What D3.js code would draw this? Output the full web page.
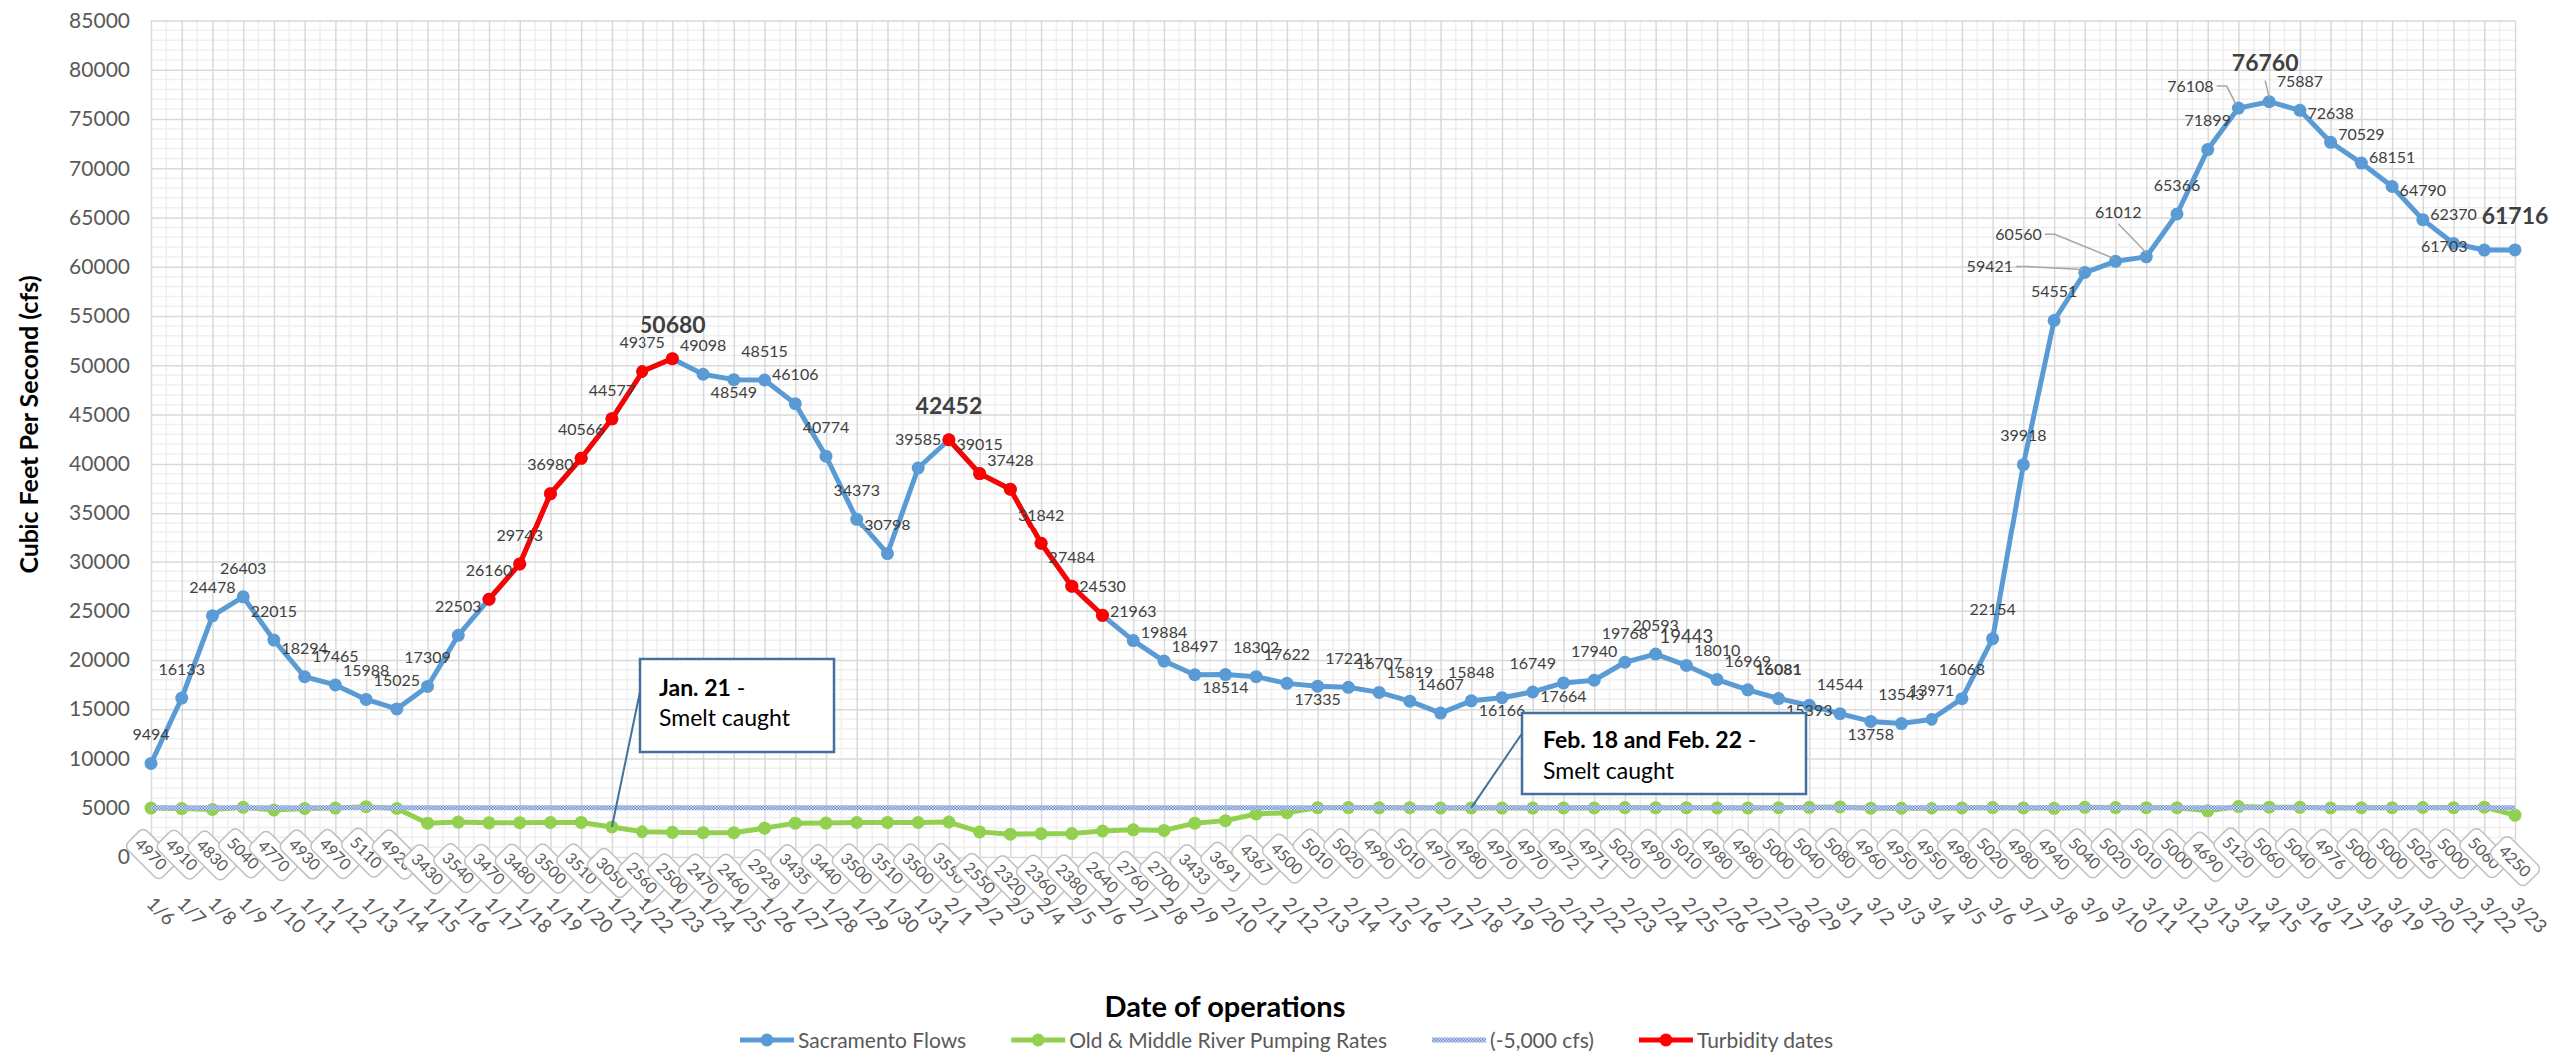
<!DOCTYPE html>
<html>
<head>
<meta charset="utf-8">
<script src="https://cdn.jsdelivr.net/npm/d3@7"></script>
<style>
  html, body { margin: 0; padding: 0; background: #fff; }
  svg { display: block; font-family: Lato, "Open Sans", sans-serif; }
</style>
</head>
<body>
<svg width="2578" height="1057"></svg>
<script>
// --- Data ---
const dates = [
  "1/6","1/7","1/8","1/9","1/10","1/11","1/12","1/13","1/14","1/15","1/16","1/17","1/18",
  "1/19","1/20","1/21","1/22","1/23","1/24","1/25","1/26","1/27","1/28","1/29","1/30","1/31",
  "2/1","2/2","2/3","2/4","2/5","2/6","2/7","2/8","2/9","2/10","2/11","2/12","2/13","2/14",
  "2/15","2/16","2/17","2/18","2/19","2/20","2/21","2/22","2/23","2/24","2/25","2/26","2/27",
  "2/28","2/29",
  "3/1","3/2","3/3","3/4","3/5","3/6","3/7","3/8","3/9","3/10","3/11","3/12","3/13","3/14",
  "3/15","3/16","3/17","3/18","3/19","3/20","3/21","3/22","3/23"
];

const sacramentoFlows = [
  9494, 16133, 24478, 26403, 22015, 18294, 17465, 15988, 15025, 17309, 22503, 26160, 29743,
  36980, 40566, 44577, 49375, 50680, 49098, 48549, 48515, 46106, 40774, 34373, 30798, 39585,
  42452, 39015, 37428, 31842, 27484, 24530, 21963, 19884, 18497, 18514, 18302, 17622, 17335, 17221,
  16707, 15819, 14607, 15848, 16166, 16749, 17664, 17940, 19768, 20593, 19443, 18010, 16969,
  16081, 15393,
  14544, 13758, 13543, 13971, 16068, 22154, 39918, 54551, 59421, 60560, 61012, 65366, 71899, 76108,
  76760, 75887, 72638, 70529, 68151, 64790, 62370, 61703, 61716
];

const pumpingRates = [
  4970, 4910, 4830, 5040, 4770, 4930, 4970, 5110, 4920, 3430, 3540, 3470, 3480,
  3500, 3510, 3050, 2560, 2500, 2470, 2460, 2928, 3435, 3440, 3500, 3510, 3500,
  3550, 2550, 2320, 2360, 2380, 2640, 2760, 2700, 3433, 3691, 4367, 4500, 5010, 5020,
  4990, 5010, 4970, 4980, 4970, 4970, 4972, 4971, 5020, 4990, 5010, 4980, 4980,
  5000, 5040,
  5080, 4960, 4950, 4950, 4980, 5020, 4980, 4940, 5040, 5020, 5010, 5000, 4690, 5120,
  5060, 5040, 4976, 5000, 5000, 5026, 5000, 5060, 4250
];

const pumpingLimit = 5000; // the "(-5,000 cfs)" reference series

const turbidityDates = [
  "1/17","1/18","1/19","1/20","1/21","1/22","1/23",
  "2/1","2/2","2/3","2/4","2/5","2/6"
];

const yTicks = [0, 5000, 10000, 15000, 20000, 25000, 30000, 35000, 40000, 45000,
  50000, 55000, 60000, 65000, 70000, 75000, 80000, 85000];

const seriesNames = ["Sacramento Flows", "Old & Middle River Pumping Rates", "(-5,000 cfs)", "Turbidity dates"];

const smeltNotes = [
  { date: "1/21", bold: "Jan. 21", line2: "Smelt caught" },
  { date: "2/18", bold: "Feb. 18 and Feb. 22", line2: "Smelt caught" }
];

// --- Label placement (as arranged in the original) ---
const labelBelow = ["1/25", "2/10", "2/13", "2/19", "2/21", "3/2"];
const labelStyle = { "1/23": "peak", "2/1": "peak", "3/15": "peak", "3/23": "peak", "2/25": "large", "2/28": "bold" };
const labelShift = {
  "2/29": { dx: 0, dy: 5 },
  "3/9":  { dx: -95, dy: -6, leader: "side" },
  "3/10": { dx: -97, dy: -27, leader: "side" },
  "3/11": { dx: -28, dy: -45, leader: "down" },
  "3/14": { dx: -48, dy: -22, leader: "side" },
  "3/15": { dx: -4, dy: -39, leader: "down" },
  "3/22": { dx: -40, dy: -4 }
};

// --- Setup ---
const svg = d3.select("svg");
const plot = { left: 151, right: 2517, top: 20.5, bottom: 858 };

const x = d3.scalePoint().domain(dates).range([plot.left, plot.right]);
const y = d3.scaleLinear().domain([0, 85000]).range([plot.bottom, plot.top]);

const sacData = dates.map((d, i) => ({ date: d, value: sacramentoFlows[i] }));
const pumpData = dates.map((d, i) => ({ date: d, value: pumpingRates[i] }));
const limitData = dates.map(d => ({ date: d, value: pumpingLimit }));
const turbData = dates.map((d, i) => ({ date: d, value: turbidityDates.includes(d) ? sacramentoFlows[i] : null }));

const defs = svg.append("defs");
const hatch = defs.append("pattern").attr("id", "hatch")
  .attr("width", 3).attr("height", 3).attr("patternUnits", "userSpaceOnUse");
hatch.append("rect").attr("width", 3).attr("height", 3).attr("fill", "#d3def3");
hatch.append("rect").attr("width", 1.5).attr("height", 1.5).attr("fill", "#6a8bd0");
hatch.append("rect").attr("x", 1.5).attr("y", 1.5).attr("width", 1.5).attr("height", 1.5).attr("fill", "#6a8bd0");

// --- Gridlines ---
const grid = svg.append("g").attr("class", "grid");
grid.selectAll("line.hminor")
  .data(d3.range(1000, 85000, 1000).filter(v => v % 5000 !== 0))
  .join("line")
  .attr("x1", plot.left).attr("x2", plot.right)
  .attr("y1", d => y(d)).attr("y2", d => y(d))
  .attr("stroke", "#efefef").attr("stroke-width", 1.5);
grid.selectAll("line.vminor")
  .data(dates.slice(1))
  .join("line")
  .attr("x1", d => x(d) - x.step() / 2).attr("x2", d => x(d) - x.step() / 2)
  .attr("y1", plot.top).attr("y2", plot.bottom)
  .attr("stroke", "#efefef").attr("stroke-width", 1.5);

grid.append("g")
  .attr("transform", `translate(${plot.left},0)`)
  .call(d3.axisLeft(y).tickValues(yTicks).tickSize(-(plot.right - plot.left)).tickFormat(""))
  .call(g => g.select(".domain").remove())
  .selectAll("line").attr("stroke", "#d9d9d9").attr("stroke-width", 1.5);
grid.append("g")
  .attr("transform", `translate(0,${plot.bottom})`)
  .call(d3.axisBottom(x).tickSize(-(plot.bottom - plot.top)).tickFormat(""))
  .call(g => g.select(".domain").remove())
  .selectAll("line").attr("stroke", "#d9d9d9").attr("stroke-width", 1.5);

// --- Y axis labels ---
svg.append("g")
  .attr("transform", "translate(130,0)")
  .call(d3.axisLeft(y).tickValues(yTicks).tickSize(0).tickPadding(0).tickFormat(d => d))
  .call(g => g.select(".domain").remove())
  .selectAll("text")
  .attr("font-family", "Lato, sans-serif")
  .attr("font-size", 21)
  .attr("fill", "#595959");

// --- Series ---
const line = d3.line()
  .defined(d => d.value != null)
  .x(d => x(d.date))
  .y(d => y(d.value));

function drawSeries(data, color) {
  const g = svg.append("g");
  g.append("path").datum(data)
    .attr("d", line)
    .attr("fill", "none").attr("stroke", color)
    .attr("stroke-width", 5).attr("stroke-linejoin", "round");
  g.selectAll("circle").data(data.filter(d => d.value != null)).join("circle")
    .attr("cx", d => x(d.date)).attr("cy", d => y(d.value))
    .attr("r", 6.5).attr("fill", color);
}

drawSeries(sacData, "#5b9bd5");
drawSeries(pumpData, "#92d050");
svg.append("path").datum(limitData)
  .attr("d", line)
  .attr("fill", "none").attr("stroke", "url(#hatch)").attr("stroke-width", 5);
drawSeries(turbData, "#ff0000");

// --- Sacramento data labels ---
const labelLayer = svg.append("g").attr("class", "labels");
sacData.forEach(d => {
  const px = x(d.date), py = y(d.value);
  const style = labelStyle[d.date] || "normal";
  const shift = labelShift[d.date];
  let cx = px, cy = py - 29;
  if (labelBelow.includes(d.date)) cy = py + 13;
  if (style === "peak") cy = py - 34;
  if (shift) { cx = px + shift.dx; cy = py + shift.dy; }

  const t = labelLayer.append("text")
    .attr("x", cx).attr("y", cy).attr("dy", "0.36em")
    .attr("text-anchor", "middle")
    .attr("font-size", style === "peak" ? 23 : style === "large" ? 18.5 : 16)
    .attr("font-weight", (style === "peak" || style === "bold") ? 700 : 400)
    .attr("fill", "#404040")
    .text(d.value);

  if (shift && shift.leader) {
    const w = t.node().getComputedTextLength();
    let pts;
    if (shift.leader === "side") {
      const sx = cx + w / 2 + 3;
      pts = [[sx, cy], [sx + 10, cy], [px - 2, py - 3]];
    } else {
      pts = [[cx, cy + (style === "peak" ? 18 : 12)], [px, py - 4]];
    }
    labelLayer.append("path")
      .attr("d", d3.line()(pts))
      .attr("fill", "none").attr("stroke", "#a6a6a6").attr("stroke-width", 1.5);
  }
});

// --- Pumping rate labels (boxed, rotated) ---
const boxLayer = svg.append("g").attr("class", "boxes");
pumpData.forEach(d => {
  const g = boxLayer.append("g")
    .attr("transform", `translate(${x(d.date)},${y(d.value) + 46}) rotate(45)`);
  const rect = g.append("rect");
  const t = g.append("text")
    .attr("text-anchor", "middle").attr("dy", "0.36em")
    .attr("font-size", 16).attr("fill", "#595959")
    .text(d.value);
  const w = t.node().getComputedTextLength() + 12;
  rect.attr("x", -w / 2).attr("y", -13.5).attr("width", w).attr("height", 27)
    .attr("rx", 6).attr("fill", "#fff").attr("stroke", "#bfbfbf").attr("stroke-width", 1.5);
});

// --- X axis (dates) ---
svg.append("g")
  .attr("transform", `translate(0,${plot.bottom})`)
  .call(d3.axisBottom(x).tickSize(0))
  .call(g => g.select(".domain").remove())
  .selectAll("text")
  .attr("x", 0).attr("y", 0).attr("dy", 0)
  .attr("text-anchor", "start")
  .attr("transform", "translate(-6,48) rotate(45)")
  .attr("font-family", "Lato, sans-serif")
  .attr("font-size", 19)
  .attr("fill", "#595959");

// --- Smelt callouts ---
const calloutBoxes = [
  { x: 640, y: 660, w: 195, h: 93, tx: 660, b1: 697, b2: 727, lx: 642, ly: 683 },
  { x: 1523, y: 714, w: 284, h: 81, tx: 1544, b1: 749, b2: 780, lx: 1524, ly: 733 }
];
smeltNotes.forEach((note, i) => {
  const b = calloutBoxes[i];
  const idx = dates.indexOf(note.date);
  const g = svg.append("g").attr("class", "callout");
  g.append("line")
    .attr("x1", b.lx).attr("y1", b.ly)
    .attr("x2", x(note.date)).attr("y2", y(pumpingRates[idx]))
    .attr("stroke", "#41719c").attr("stroke-width", 2);
  g.append("rect")
    .attr("x", b.x).attr("y", b.y).attr("width", b.w).attr("height", b.h)
    .attr("fill", "#fff").attr("stroke", "#41719c").attr("stroke-width", 2.5);
  const t1 = g.append("text").attr("x", b.tx).attr("y", b.b1).attr("font-size", 23).attr("fill", "#000");
  t1.append("tspan").attr("font-weight", 700).text(note.bold);
  t1.append("tspan").text(" -");
  g.append("text").attr("x", b.tx).attr("y", b.b2).attr("font-size", 23).attr("fill", "#000").text(note.line2);
});

// --- Axis titles ---
svg.append("text")
  .attr("transform", "translate(38,425) rotate(-90)")
  .attr("text-anchor", "middle")
  .attr("font-size", 25).attr("font-weight", 700).attr("fill", "#000")
  .text("Cubic Feet Per Second (cfs)");

svg.append("text")
  .attr("x", 1226).attr("y", 1018)
  .attr("text-anchor", "middle")
  .attr("font-size", 29).attr("font-weight", 700).attr("fill", "#000")
  .text("Date of operations");

// --- Legend ---
const legend = svg.append("g").attr("class", "legend");
const legendColors = ["#5b9bd5", "#92d050", "url(#hatch)", "#ff0000"];
let lx = 0;
seriesNames.forEach((name, i) => {
  const item = legend.append("g").attr("transform", `translate(${lx},0)`);
  item.append("line").attr("x1", 0).attr("x2", 54).attr("y1", 0).attr("y2", 0)
    .attr("stroke", legendColors[i]).attr("stroke-width", 5);
  if (i !== 2) item.append("circle").attr("cx", 27).attr("cy", 0).attr("r", 6.5).attr("fill", legendColors[i]);
  const t = item.append("text").attr("x", 58).attr("dy", "0.36em")
    .attr("font-size", 21).attr("fill", "#595959").text(name);
  lx += 58 + t.node().getComputedTextLength() + 45;
});
const legendWidth = lx - 45;
legend.attr("transform", `translate(${1287.5 - legendWidth / 2},1041)`);
</script>
</body>
</html>
